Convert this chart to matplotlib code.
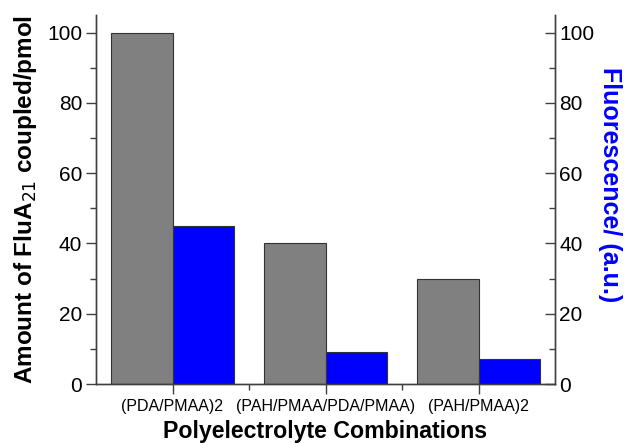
import matplotlib
matplotlib.use("Agg")
import matplotlib.pyplot as plt
from matplotlib.ticker import MultipleLocator, FixedLocator
import numpy as np

categories = ["(PDA/PMAA)2", "(PAH/PMAA/PDA/PMAA)", "(PAH/PMAA)2"]
amount_pmol = [100, 40, 30]
fluorescence = [45, 9, 7]

plt.rcParams["font.family"] = ["Liberation Sans", "DejaVu Sans"]

fig = plt.figure(figsize=(6.24, 4.43), dpi=100)
ax = fig.add_axes([96 / 624, 59 / 443, (555 - 96) / 624, (384 - 15) / 443])
ax2 = ax.twinx()

x = np.arange(len(categories))
w = 0.4
ax.bar(x - w / 2, amount_pmol, width=w, color="#808080", edgecolor="#333333", linewidth=0.8, zorder=2)
ax2.bar(x + w / 2, fluorescence, width=w, color="#0000FF", edgecolor="#333333", linewidth=0.8, zorder=2)

for a in (ax, ax2):
    a.set_ylim(0, 105)
    a.set_xlim(-0.5, 2.5)
    a.yaxis.set_major_locator(MultipleLocator(20))
    a.yaxis.set_minor_locator(MultipleLocator(10))
    a.spines["top"].set_visible(False)
    for s in a.spines.values():
        s.set_color("#404040")
        s.set_linewidth(1.0)

ax.tick_params(axis="y", which="major", direction="out", length=7, width=1, color="#404040", labelsize=15, pad=3)
ax.tick_params(axis="y", which="minor", direction="out", length=4, width=1, color="#404040")
ax2.tick_params(axis="y", which="major", direction="in", length=7, width=1, color="#404040", labelsize=15, pad=3)
ax2.tick_params(axis="y", which="minor", direction="in", length=4, width=1, color="#404040")

ax.set_xticks(x)
ax.set_xticklabels(categories, fontsize=11.5)
ax.xaxis.set_minor_locator(FixedLocator([0.5, 1.5]))
ax.tick_params(axis="x", which="major", direction="out", length=7, width=1, color="#404040", pad=4)
ax.tick_params(axis="x", which="minor", direction="out", length=4, width=1, color="#404040")

ax.set_ylabel("Amount of FluA$_{21}$ coupled/pmol", fontsize=17.5, fontweight="bold", labelpad=6)
ax.set_xlabel("Polyelectrolyte Combinations", fontsize=16.7, fontweight="bold", labelpad=4)
ax2.set_ylabel("Fluorescence/ (a.u.)", fontsize=18, fontweight="bold", color="#0000FF",
               rotation=270, va="bottom")
ax2.yaxis.set_label_coords(1.093, 0.54)

fig.savefig("out.png", dpi=100)
